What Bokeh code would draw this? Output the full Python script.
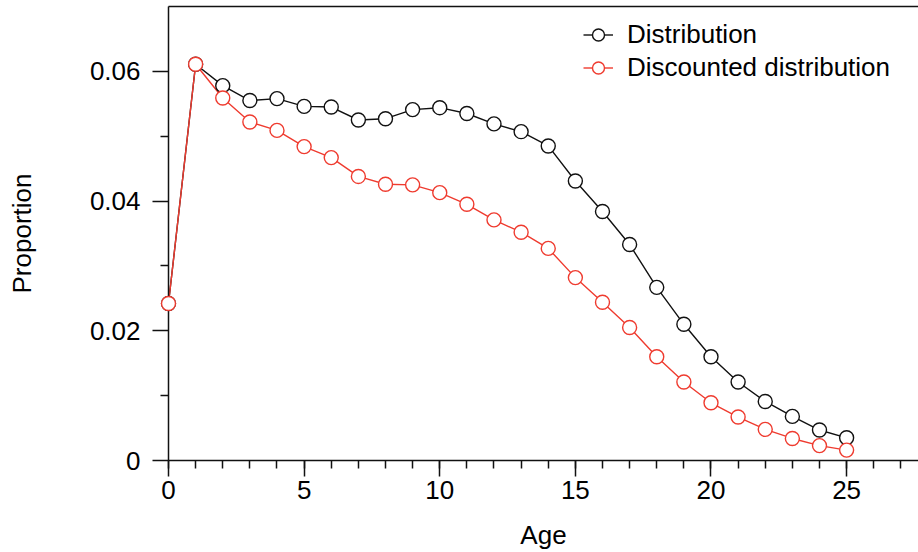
from bokeh.plotting import figure
from bokeh.models import ColumnDataSource, FixedTicker, LinearAxis, Range1d, Legend, LegendItem
from bokeh.embed import file_html
from bokeh.resources import INLINE

# ---- data ----
ages = list(range(26))
distribution = [0.0242, 0.0611, 0.0578, 0.0555, 0.0558, 0.0546, 0.0545, 0.0525, 0.0527,
                0.0541, 0.0544, 0.0535, 0.0519, 0.0507, 0.0485, 0.0431, 0.0384, 0.0333,
                0.0267, 0.0210, 0.0160, 0.0121, 0.0091, 0.0068, 0.0047, 0.0035]
discounted = [0.0242, 0.0611, 0.0559, 0.0522, 0.0509, 0.0484, 0.0467, 0.0438, 0.0426,
              0.0425, 0.0413, 0.0395, 0.0371, 0.0352, 0.0327, 0.0282, 0.0244, 0.0205,
              0.0160, 0.0121, 0.0089, 0.0067, 0.0048, 0.0034, 0.0023, 0.0016]
series_names = ["Distribution", "Discounted distribution"]
x_ticks = [0, 5, 10, 15, 20, 25]
x_minor = list(range(0, 28))
y_ticks = [0, 0.02, 0.04, 0.06]
y_tick_labels = ["0", "0.02", "0.04", "0.06"]
y_minor = [0.01, 0.03, 0.05]

FONT = "Liberation Sans"
FS = "26px"
BLACK = "#111111"
RED = "#ef3b2f"

src = ColumnDataSource(dict(age=ages, dist=distribution, disc=discounted))

p = figure(width=918, height=552, output_backend="svg", toolbar_location=None,
           x_range=Range1d(0, 27.65), y_range=Range1d(0, 0.07),
           min_border_left=168, min_border_right=0, min_border_top=6,
           min_border_bottom=91, x_axis_label="Age", y_axis_label="Proportion")
p.grid.visible = False
p.outline_line_color = None
p.background_fill_color = "white"
p.border_fill_color = "white"

l1 = p.line("age", "dist", source=src, color=BLACK, line_width=1.4)
l2 = p.line("age", "disc", source=src, color=RED, line_width=1.4)
s1 = p.scatter("age", "dist", source=src, size=14, line_color=BLACK, fill_color="white", line_width=1.4)
s2 = p.scatter("age", "disc", source=src, size=14, line_color=RED, fill_color="white", line_width=1.4)
s1.level = "overlay"
s2.level = "overlay"

for ax in (p.xaxis[0], p.yaxis[0]):
    ax.axis_line_color = BLACK
    ax.axis_line_width = 1.5
    ax.major_tick_line_color = BLACK
    ax.major_tick_line_width = 1.5
    ax.minor_tick_line_color = BLACK
    ax.minor_tick_line_width = 1.5
    ax.major_tick_in = 0
    ax.major_tick_out = 16
    ax.minor_tick_in = 0
    ax.minor_tick_out = 8
    ax.major_label_text_font = FONT
    ax.major_label_text_font_size = FS
    ax.major_label_text_color = "black"
    ax.axis_label_text_font = FONT
    ax.axis_label_text_font_size = FS
    ax.axis_label_text_font_style = "normal"
    ax.axis_label_text_color = "black"

p.xaxis[0].ticker = FixedTicker(ticks=x_ticks, minor_ticks=x_minor)
p.yaxis[0].ticker = FixedTicker(ticks=y_ticks, minor_ticks=y_minor)
p.yaxis[0].major_label_overrides = {t: s for t, s in zip(y_ticks, y_tick_labels)}
p.xaxis[0].major_label_standoff = 4
p.yaxis[0].major_label_standoff = 12
p.xaxis[0].axis_label_standoff = 18
p.yaxis[0].axis_label_standoff = 50

top = LinearAxis(ticker=FixedTicker(ticks=[]), axis_line_color=BLACK, axis_line_width=1.5,
                 major_tick_line_color=None, minor_tick_line_color=None)
p.add_layout(top, "above")

legend = Legend(items=[LegendItem(label=series_names[0], renderers=[l1, s1]),
                       LegendItem(label=series_names[1], renderers=[l2, s2])],
                location=(415, 376), padding=0, margin=0, spacing=0,
                glyph_width=30, glyph_height=33, label_height=33, label_standoff=14,
                label_text_font=FONT, label_text_font_size=FS, label_text_color="black",
                background_fill_alpha=0, border_line_color=None)
p.add_layout(legend)

open("out.html", "w").write(file_html(p, INLINE))
